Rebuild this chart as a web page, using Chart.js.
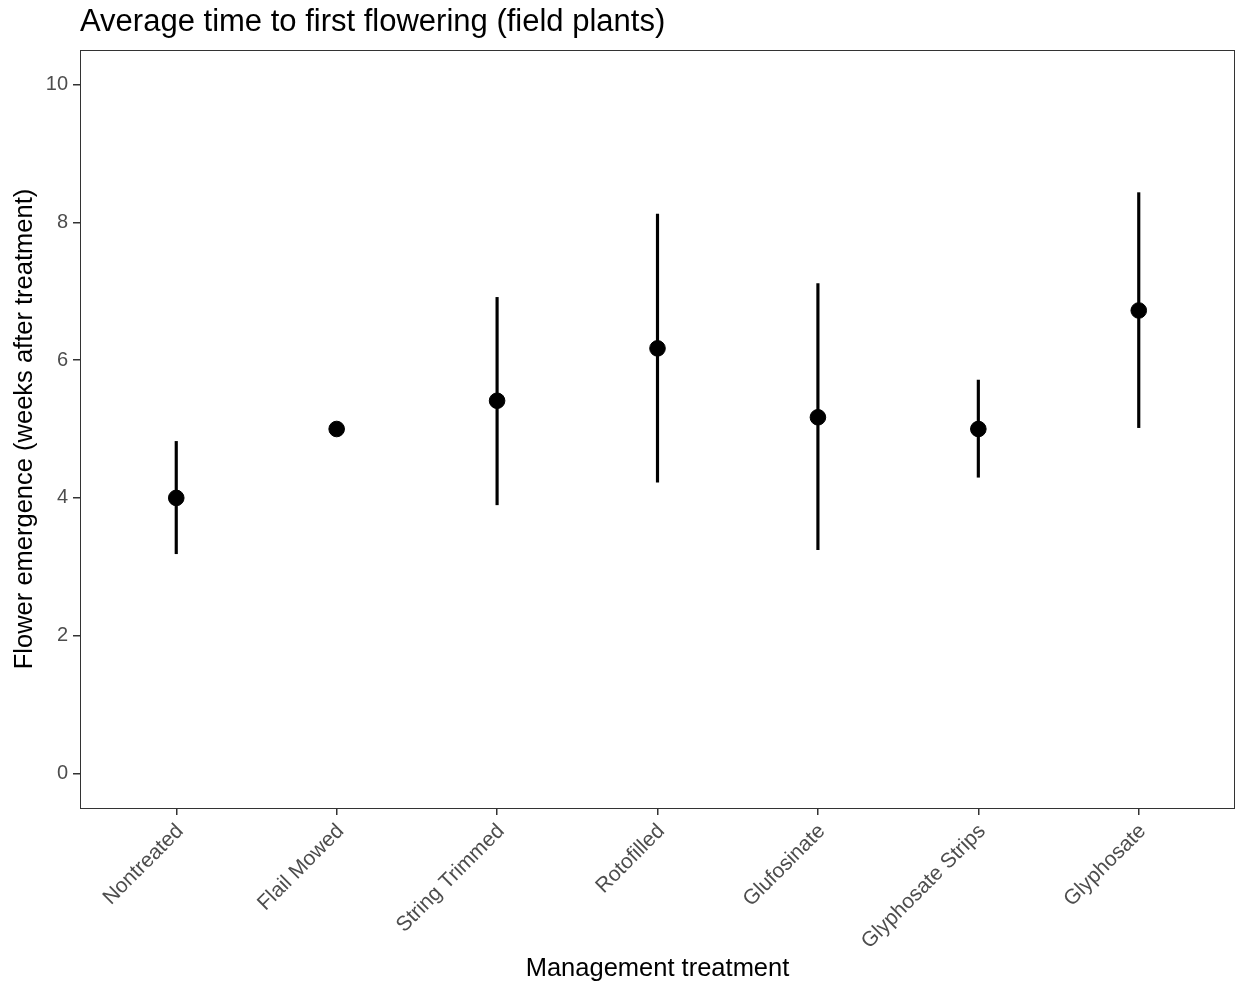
<!DOCTYPE html>
<html>
<head>
<meta charset="utf-8">
<script src="https://cdn.jsdelivr.net/npm/chart.js@4.4.1/dist/chart.umd.min.js"></script>
<style>
  html, body { margin: 0; padding: 0; background: #fff; }
  #wrap { width: 1238px; height: 987px; }
</style>
</head>
<body>
<div id="wrap"><canvas id="chart" width="1238" height="987"></canvas></div>
<script>
const treatments = ['Nontreated', 'Flail Mowed', 'String Trimmed', 'Rotofilled', 'Glufosinate', 'Glyphosate Strips', 'Glyphosate'];
const meanWeeks = [4.0, 5.0, 5.41, 6.17, 5.17, 5.0, 6.72];
const lowerWeeks = [3.19, 5.0, 3.90, 4.23, 3.25, 4.30, 5.02];
const upperWeeks = [4.82, 5.0, 6.91, 8.12, 7.11, 5.71, 8.43];
const yTicks = [0, 2, 4, 6, 8, 10];

Chart.defaults.font.family = "'Liberation Sans', Arial, sans-serif";

// ggplot-style panel border + plot title
const panelDecor = {
    id: 'panelDecor',
    afterDraw(chart) {
        const {ctx, chartArea: a} = chart;
        ctx.save();
        ctx.strokeStyle = '#333333';
        ctx.lineWidth = 1;
        ctx.strokeRect(a.left + 0.5, a.top + 0.5, a.right - a.left - 1, a.bottom - a.top);
        ctx.fillStyle = '#000';
        ctx.font = "31px 'Liberation Sans', Arial, sans-serif";
        ctx.textBaseline = 'alphabetic';
        ctx.textAlign = 'left';
        ctx.fillText('Average time to first flowering (field plants)', 80, 31);
        ctx.restore();
    }
};

new Chart(document.getElementById('chart'), {
    data: {
        datasets: [{
            type: 'bar',
            label: 'range',
            data: treatments.map((t, i) => ({x: i, y: [lowerWeeks[i], upperWeeks[i]]})),
            backgroundColor: '#000',
            barThickness: 2.5,
            borderWidth: 0
        }, {
            type: 'scatter',
            label: 'mean',
            data: treatments.map((t, i) => ({x: i, y: meanWeeks[i]})),
            backgroundColor: '#000',
            borderColor: '#000',
            pointRadius: 7.8,
            pointHoverRadius: 7.8
        }]
    },
    options: {
        responsive: false,
        animation: false,
        layout: { autoPadding: false, padding: { top: 50, right: 3, left: 0, bottom: 0 } },
        plugins: {
            legend: { display: false },
            tooltip: { enabled: false }
        },
        scales: {
            x: {
                type: 'linear',
                min: -0.6,
                max: 6.6,
                offset: false,
                afterBuildTicks: (scale) => {
                    scale.ticks = treatments.map((t, i) => ({value: i}));
                },
                afterFit: (scale) => {
                    scale.height = 179;
                    scale.paddingLeft = 0;
                    scale.paddingRight = 0;
                },
                grid: { offset: false, drawOnChartArea: false, drawTicks: true, tickLength: 7, color: '#333333', lineWidth: 1.5 },
                border: { display: false },
                ticks: {
                    minRotation: 45,
                    maxRotation: 45,
                    autoSkip: false,
                    padding: 4,
                    labelOffset: 4,
                    color: '#4d4d4d',
                    font: { size: 21 },
                    callback: (v) => treatments[v]
                },
                title: {
                    display: true,
                    text: 'Management treatment',
                    color: '#000',
                    font: { size: 25.5 },
                    padding: { top: 0, bottom: 3 }
                }
            },
            y: {
                min: -0.5,
                max: 10.5,
                afterBuildTicks: (scale) => {
                    scale.ticks = yTicks.map(v => ({value: v}));
                },
                afterFit: (scale) => { scale.width = 80; },
                grid: { drawOnChartArea: false, drawTicks: true, tickLength: 7, color: '#333333', lineWidth: 1.5 },
                border: { display: false },
                ticks: {
                    padding: 5,
                    color: '#4d4d4d',
                    font: { size: 20 }
                },
                title: {
                    display: true,
                    text: 'Flower emergence (weeks after treatment)',
                    color: '#000',
                    font: { size: 25.5 },
                    padding: { top: 10, bottom: 0 }
                }
            }
        }
    },
    plugins: [panelDecor]
});
</script>
</body>
</html>
